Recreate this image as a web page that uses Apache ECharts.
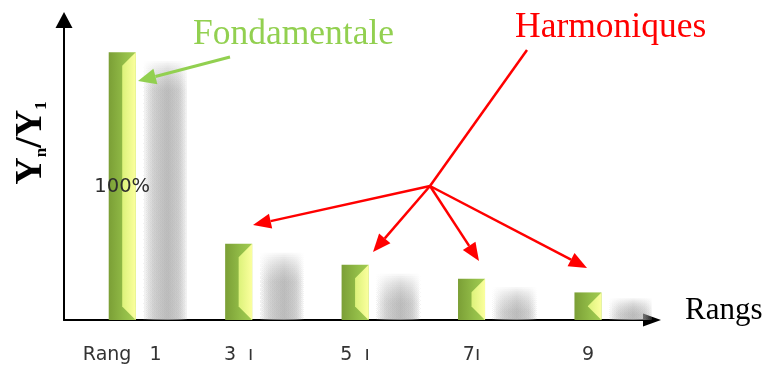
<!DOCTYPE html>
<html>
<head>
<meta charset="utf-8">
<script src="https://cdn.jsdelivr.net/npm/echarts/dist/echarts.min.js"></script>
<style>
  html, body { margin: 0; padding: 0; background: #ffffff; }
  #chart { width: 765px; height: 365px; }
</style>
</head>
<body>
<div id="chart"></div>
<script>
// Harmonic ranks and their amplitude relative to the fundamental (Yn / Y1, in %)
const ranks = [1, 3, 5, 7, 9];
const ratios = [100, 28.5, 20.6, 15.4, 10.3];
const barLabels = ['100%', '', '', '', ''];
const tickLabels = { 1: 'Rang   1', 3: '3  ı', 5: '5  ı', 7: '7ı', 9: '9' };

const chart = echarts.init(document.getElementById('chart'), null, { renderer: 'canvas' });

const greenBody = new echarts.graphic.LinearGradient(0, 0, 1, 0, [
  { offset: 0, color: '#7b9f36' },
  { offset: 0.6, color: '#93bd48' },
  { offset: 1, color: '#a3cc52' }
]);
const lightFace = new echarts.graphic.LinearGradient(0, 0, 1, 0, [
  { offset: 0, color: '#dcf27a' },
  { offset: 1, color: '#fbff9e' }
]);

// Soft horizontal profile used for every shadow layer
function shadowFill(a) {
  const c = x => 'rgba(170,170,170,' + x + ')';
  return new echarts.graphic.LinearGradient(0, 0, 1, 0, [
    { offset: 0, color: c(0) },
    { offset: 0.25, color: c(a * 0.55) },
    { offset: 0.55, color: c(a) },
    { offset: 0.8, color: c(a * 0.6) },
    { offset: 1, color: c(0) }
  ]);
}

const SHADOW_LAYERS = 14;

// Bevelled bar with a soft grey shadow cast to its right
function renderBar(params, api) {
  const r = api.value(0);
  const v = api.value(1);
  const i = api.value(2);
  const top = api.coord([r, v]);
  const base = api.coord([r, 0]);
  const w = api.size([0.464, 0])[0];
  const cx = top[0];
  const left = cx - w / 2;
  const right = cx + w / 2;
  const h = base[1] - top[1];
  const faceW = w * 0.5;
  const bev = Math.min(faceW, h / 2);
  const shCx = cx + api.size([0.74, 0])[0];
  const shW = api.size([0.78, 0])[0];

  const children = [];
  // stacked translucent layers give the shadow a faded top edge
  const start = Math.min(9, h * 0.2);
  const step = Math.min(2.2, h * 0.045);
  for (let k = 0; k < SHADOW_LAYERS; k++) {
    const y0 = top[1] + start + k * step;
    children.push({
      type: 'rect',
      shape: { x: shCx - shW / 2, y: y0, width: shW, height: base[1] - y0 },
      style: { fill: shadowFill(0.105) },
      silent: true
    });
  }
  children.push(
    {
      type: 'rect',
      shape: { x: left, y: top[1], width: w, height: h },
      style: { fill: greenBody }
    },
    {
      type: 'polygon',
      shape: { points: [[right - faceW, top[1] + bev], [right, top[1]], [right, base[1]], [right - faceW, base[1] - bev]] },
      style: { fill: lightFace }
    }
  );
  if (barLabels[i]) {
    children.push({
      type: 'text',
      style: {
        text: barLabels[i], x: cx, y: (top[1] + base[1]) / 2 + 1,
        align: 'center', verticalAlign: 'middle',
        font: '19.5px "DejaVu Sans"', fill: '#2d2d2d'
      }
    });
  }
  return { type: 'group', children };
}

// Straight arrow: shaft plus a filled triangular head
function arrow(x1, y1, x2, y2, color, lw, hl, hw) {
  const a = Math.atan2(y2 - y1, x2 - x1);
  const bx = x2 - hl * Math.cos(a), by = y2 - hl * Math.sin(a);
  const px = -Math.sin(a) * hw / 2, py = Math.cos(a) * hw / 2;
  return [
    { type: 'line', shape: { x1, y1, x2: bx, y2: by }, style: { stroke: color, lineWidth: lw }, z: 10 },
    { type: 'polygon', shape: { points: [[x2, y2], [bx + px, by + py], [bx - px, by - py]] }, style: { fill: color }, z: 10 }
  ];
}

const red = '#ff0000';
const green = '#92d050';
const hub = [430, 186];

const annotations = [
  ...arrow(230, 57, 138, 81, green, 3, 18, 16),
  { type: 'line', shape: { x1: 527, y1: 50, x2: hub[0], y2: hub[1] }, style: { stroke: red, lineWidth: 2.5 }, z: 10 },
  ...arrow(hub[0], hub[1], 253, 225, red, 2.5, 18, 15),
  ...arrow(hub[0], hub[1], 373, 252, red, 2.5, 18, 15),
  ...arrow(hub[0], hub[1], 479, 261, red, 2.5, 18, 15),
  ...arrow(hub[0], hub[1], 587, 268, red, 2.5, 18, 15),
  {
    type: 'text', x: 193, y: 35,
    style: { text: 'Fondamentale', font: '35.5px "Liberation Serif"', fill: green, verticalAlign: 'middle' }
  },
  {
    type: 'text', x: 515, y: 28,
    style: { text: 'Harmoniques', font: '35.5px "Liberation Serif"', fill: red, verticalAlign: 'middle' }
  },
  {
    type: 'text', x: 685, y: 311,
    style: { text: 'Rangs', font: '31px "Liberation Serif"', fill: '#000', verticalAlign: 'middle' }
  },
  {
    type: 'text', x: 31, y: 143, rotation: Math.PI / 2,
    style: {
      text: '{Y|Y}{s|n}{Y|/Y}{s|1}',
      align: 'center', verticalAlign: 'middle',
      rich: {
        Y: { fontSize: 38, fontWeight: 'bold', fontFamily: 'Liberation Serif', fill: '#000' },
        s: { fontSize: 17, fontWeight: 'bold', fontFamily: 'Liberation Serif', fill: '#000', verticalAlign: 'bottom' }
      }
    }
  }
];

chart.setOption({
  animation: false,
  backgroundColor: '#ffffff',
  grid: { left: 64, right: 113, top: 20, bottom: 45, containLabel: false },
  xAxis: {
    type: 'value',
    min: 0,
    max: 10.1,
    interval: 1,
    axisLine: {
      show: true,
      symbol: ['none', 'triangle'],
      symbolSize: [13, 18],
      lineStyle: { color: '#000', width: 2 }
    },
    axisTick: { show: false },
    splitLine: { show: false },
    axisLabel: {
      formatter: v => tickLabels[v] || '',
      margin: 26,
      color: '#333',
      fontSize: 19,
      fontFamily: 'DejaVu Sans'
    }
  },
  yAxis: {
    type: 'value',
    min: 0,
    max: 112,
    axisLine: {
      show: true,
      symbol: ['none', 'triangle'],
      symbolSize: [17, 16],
      lineStyle: { color: '#000', width: 2 }
    },
    axisTick: { show: false },
    axisLabel: { show: false },
    splitLine: { show: false }
  },
  series: [{
    type: 'custom',
    clip: true,
    renderItem: renderBar,
    data: ranks.map((r, i) => [r, ratios[i], i])
  }],
  graphic: { elements: annotations }
});
</script>
</body>
</html>
